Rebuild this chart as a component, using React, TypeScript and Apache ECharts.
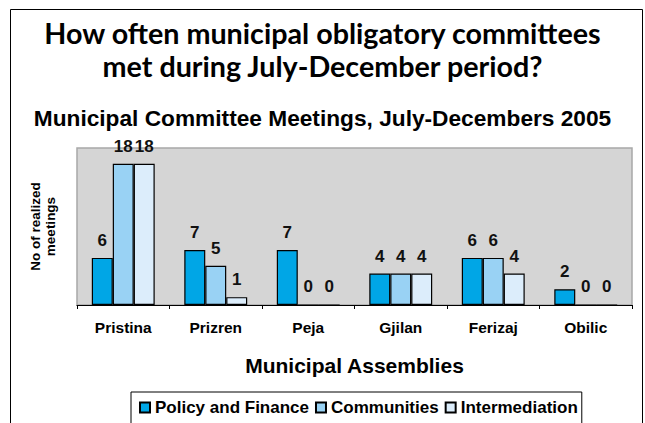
import React, { useEffect, useRef } from "react";
import * as echarts from "echarts";

const categories = ["Pristina", "Prizren", "Peja", "Gjilan", "Ferizaj", "Obilic"];
const policyFinance = [6, 7, 7, 4, 6, 2];
const communities = [18, 5, 0, 4, 6, 0];
const intermediation = [18, 1, 0, 4, 4, 0];
const seriesNames = ["Policy and Finance", "Communities", "Intermediation"];
const colors = ["#00a6e6", "#99d2f4", "#dcedfb"];
const titleLines = ["How often municipal obligatory committees", "met during July-December period?"];
const subtitle = "Municipal Committee Meetings, July-Decembers 2005";

export default function App() {
  const ref = useRef<HTMLDivElement>(null);
  useEffect(() => {
    if (!ref.current) return;
    const chart = echarts.init(ref.current, null, { renderer: "svg" });
    const font = "'Liberation Sans', Arial, sans-serif";
    const titleFont = "Lato, 'DejaVu Sans', sans-serif";
    const mk = (name: string, data: number[], color: string) => ({
      name,
      type: "bar",
      data,
      barGap: "0%",
      barCategoryGap: "32%",
      itemStyle: { color, borderColor: "#000", borderWidth: 1.2 },
      label: {
        show: true,
        position: "top",
        distance: 9,
        color: "#111",
        fontFamily: font,
        fontWeight: "bold",
        fontSize: 17,
      },
    });
    chart.setOption({
      animation: false,
      backgroundColor: "#fff",
      title: [
        {
          text: titleLines[0],
          left: "center",
          top: 13,
          textStyle: { fontFamily: titleFont, fontWeight: "bold", fontSize: 28.7, color: "#000" },
        },
        {
          text: titleLines[1],
          left: "center",
          top: 46,
          textStyle: { fontFamily: titleFont, fontWeight: "bold", fontSize: 28.7, color: "#000" },
        },
        {
          text: subtitle,
          left: "center",
          top: 101,
          textStyle: { fontFamily: font, fontWeight: "bold", fontSize: 22.7, color: "#000" },
        },
      ],
      graphic: [
        {
          type: "rect",
          shape: { x: 10.5, y: 9.5, width: 632, height: 440 },
          style: { fill: "none", stroke: "#000", lineWidth: 1 },
          silent: true,
        },
      ],
      legend: {
        data: seriesNames,
        left: 131,
        top: 392,
        icon: "rect",
        itemWidth: 10,
        itemHeight: 10,
        itemGap: 6,
        padding: [7, 4, 30, 8],
        borderColor: "#000",
        borderWidth: 1,
        textStyle: {
          fontFamily: font,
          fontWeight: "bold",
          fontSize: 17,
          color: "#000",
        },
      },
      grid: {
        left: 77,
        right: 13,
        top: 148,
        bottom: 118,
        show: true,
        backgroundColor: "#d5d5d5",
        borderColor: "#a8a8a8",
        borderWidth: 1.5,
      },
      xAxis: {
        type: "category",
        data: categories,
        name: "Municipal Assemblies",
        nameLocation: "middle",
        nameGap: 50,
        nameTextStyle: { fontFamily: font, fontWeight: "bold", fontSize: 21, color: "#000" },
        axisLine: { lineStyle: { color: "#000", width: 1 } },
        axisTick: { show: true, length: 4, lineStyle: { color: "#000" } },
        axisLabel: { margin: 14, fontFamily: font, fontWeight: "bold", fontSize: 15.5, color: "#000" },
      },
      yAxis: {
        type: "value",
        min: 0,
        max: 20,
        name: "No of realized\nmeetings",
        nameLocation: "middle",
        nameRotate: 90,
        nameGap: 19,
        nameTextStyle: {
          fontFamily: font,
          fontWeight: "bold",
          fontSize: 13.5,
          lineHeight: 15,
          color: "#000",
        },
        axisLine: { show: false },
        axisTick: { show: false },
        axisLabel: { show: false },
        splitLine: { show: false },
      },
      series: [
        mk(seriesNames[0], policyFinance, colors[0]),
        mk(seriesNames[1], communities, colors[1]),
        mk(seriesNames[2], intermediation, colors[2]),
      ],
    });
    return () => chart.dispose();
  }, []);
  return <div ref={ref} style={{ width: 645, height: 423, position: "fixed", left: 0, top: 0 }} />;
}
